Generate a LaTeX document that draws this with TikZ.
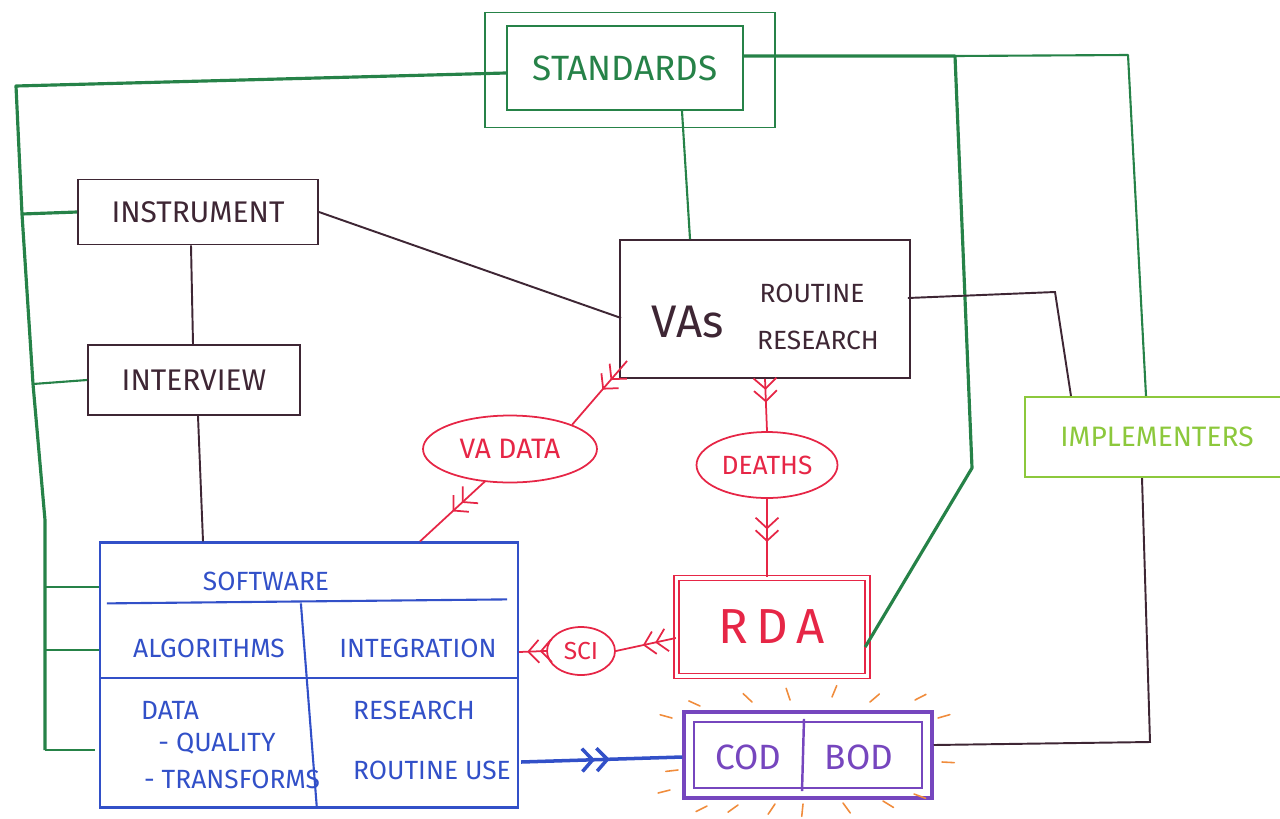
\documentclass[tikz,border=0pt]{standalone}
\usepackage{fontspec}
\setmainfont{Fira Sans}
\usetikzlibrary{calc,arrows.meta,decorations.markings,shapes.geometric}
\definecolor{gdark}{RGB}{38,130,72}
\definecolor{glight}{RGB}{140,200,60}
\definecolor{bxc}{RGB}{62,38,52}
\definecolor{rc}{RGB}{230,38,70}
\definecolor{bc}{RGB}{50,80,200}
\definecolor{pc}{RGB}{118,70,190}
\definecolor{oc}{RGB}{240,140,60}
\tikzset{
  fs/.style={font=\fontsize{#1}{#1}\selectfont},
  bbox/.style={draw=bxc, line width=1.1pt, text=bxc},
  kline/.style={draw=bxc, line width=1.1pt},
  gspine/.style={draw=gdark, line width=1.8pt, line join=round},
  gline/.style={draw=gdark, line width=1.2pt, line join=round},
  rline/.style={draw=rc, line width=1pt},
  chev/.style={postaction={decorate}, decoration={markings,
     mark=at position #1 with {\arrow{Straight Barb[length=6pt,width=13pt] Straight Barb[length=6pt,width=13pt]}}}},
  rayline/.style={draw=oc, line width=0.9pt, line cap=round},
}
\begin{document}
\begin{tikzpicture}[x=0.02cm,y=-0.02cm]
\useasboundingbox (0,0) rectangle (1280,818);

% ---- Standards
\node[draw=gdark, line width=1.1pt, minimum width=5.8cm, minimum height=2.3cm] (stdo) at (630,70) {};
\node[draw=gdark, line width=1.3pt, minimum width=4.72cm, minimum height=1.68cm, text=gdark, fs=20] (std) at (625,68) {STANDARDS};

% ---- Instrument / Interview
\node[bbox, minimum width=4.8cm, minimum height=1.3cm, fs=17] (ins) at (198,212) {INSTRUMENT};
\node[bbox, minimum width=4.24cm, minimum height=1.4cm, fs=17] (int) at (194,380) {INTERVIEW};

% ---- VAs
\node[bbox, minimum width=5.8cm, minimum height=2.76cm] (vas) at (765,309) {};
\node[text=bxc, fs=26] (vast) at (688,322) {VAs};
\node[text=bxc, fs=15] (vasr) at (812,293) {ROUTINE};
\node[text=bxc, fs=15] (vasq) at (818,340) {RESEARCH};

% ---- red ellipses
\node[ellipse, draw=rc, line width=1pt, text=rc, inner sep=0pt, minimum width=3.48cm, minimum height=1.34cm, fs=16] (vad) at (510,449) {VA DATA};
\node[ellipse, draw=rc, line width=1pt, text=rc, inner sep=0pt, minimum width=2.82cm, minimum height=1.32cm, fs=15] (dth) at (767,465) {DEATHS};
\node[ellipse, draw=rc, line width=1pt, text=rc, inner sep=0pt, minimum width=1.36cm, minimum height=0.96cm, fs=14] (sci) at (581,651) {SCI};

% ---- RDA
\node[draw=rc, line width=0.8pt, double=white, double distance=2.2pt, minimum width=3.82cm, minimum height=1.96cm, text=rc, fs=28] (rda) at (772,627) {R\,D\,A};

% ---- COD / BOD
\node[draw=pc, line width=2pt, minimum width=4.96cm, minimum height=1.72cm] (cod) at (808,755) {};
\node[draw=pc, line width=1.3pt, minimum width=4.56cm, minimum height=1.32cm] (codi) at (808,755) {};
\node[text=pc, fs=20] (codt) at (748,757) {COD};
\node[text=pc, fs=20] (bodt) at (859,757) {BOD};
\draw[draw=pc, line width=1.4pt] ($(codi.north)+(-4,-2)$) -- ($(codi.south)+(-6,2)$);

% ---- Implementers
\node[draw=glight, line width=1.2pt, minimum width=5.28cm, minimum height=1.6cm, text=glight, fs=16] (imp) at (1157,437) {IMPLEMENTERS};

% ---- Software
\node[draw=bc, line width=1.3pt, minimum width=8.36cm, minimum height=5.3cm] (sw) at (309,675) {};
\draw[draw=bc, line width=1.2pt] ($(sw.north west)+(8,62)$) -- ($(sw.north east)+(-12,58)$);
\draw[draw=bc, line width=1.2pt] ($(sw.north west)+(2,137)$) -- ($(sw.north east)+(0,137)$);
\draw[draw=bc, line width=1.2pt] ($(sw.north west)+(202,62)$) -- ($(sw.south west)+(218,0)$);
\node[text=bc, fs=15] (swt) at (266,581) {SOFTWARE};
\node[text=bc, fs=15] (alg) at (209,648) {ALGORITHMS};
\node[text=bc, fs=15] (intg) at (418,648) {INTEGRATION};
\node[text=bc, fs=15] (dat) at (170,710) {DATA};
\node[text=bc, fs=15] (qual) at (217,744) {- QUALITY};
\node[text=bc, fs=15] (trf) at (232,779) {- TRANSFORMS};
\node[text=bc, fs=15] (res) at (414,710) {RESEARCH};
\node[text=bc, fs=15] (rou) at (432,770) {ROUTINE USE};

% ---- green connectors
\coordinate (g0) at (16,86);
\coordinate (g1) at (22,214);
\coordinate (g2) at (33,384);
\coordinate (g3) at (45,520);
\coordinate (g4) at (45,587);
\coordinate (g5) at (45,650);
\coordinate (g6) at (45,750);
\draw[gspine] ($(std.west)+(0,5)$) -- (g0) -- (g1) -- (g2) -- (g3) -- (g6);
\draw[gspine] (g1) -- (ins.west);
\draw[gline] (g2) -- (int.west);
\draw[gline] (g4) -- (sw.west |- g4);
\draw[gline] (g5) -- (sw.west |- g5);
\draw[gline] (g6) -- ($(sw.west |- g6)+(-4,0)$);

\coordinate (g7) at (955,56);
\coordinate (g8) at (972,468);
\coordinate (g9) at (1128,55);
\draw[gspine] ($(std.east)+(0,-12)$) -- (g7) -- (g8) -- ($(rda.east)+(-3,20)$);
\draw[gline] (g7) -- (g9) -- ($(imp.north)+(-11,0)$);
\draw[gline] ($(std.south)+(57,0)$) -- ($(vas.north)+(-75,0)$);

% ---- black connectors
\draw[kline] (ins.east) -- ($(vas.west)+(2,9)$);
\draw[kline] ($(ins.south)+(-7,0)$) -- ($(int.north)+(-1,0)$);
\draw[kline] ($(int.south)+(4,0)$) -- ($(sw.north)+(-106,0)$);
\coordinate (k1) at (1055,292);
\draw[kline] ($(vas.east)+(-3,-11)$) -- (k1) -- ($(imp.north west)+(47,0)$);
\coordinate (k2) at (1150,742);
\draw[kline] ($(imp.south)+(-15,0)$) -- (k2) -- ($(cod.east)+(0,-10)$);

% ---- red arrows
\draw[rline, chev=0.45] ($(vas.south west)+(8,-18)$) -- (vad.north east);
\draw[rline, chev=0.5] ($(vad.south)+(-25,-2)$) -- ($(sw.north)+(111,0)$);
\draw[rline, chev=0.45] (vas.south) -- (dth.north);
\draw[rline, chev=0.55] (dth.south) -- (dth.south |- rda.north);
\draw[rline, chev=0.55] ($(rda.west)+(0,11)$) -- (sci.east);
\draw[rline, chev=0.7] (sci.west) -- ($(sw.east)+(0,-23)$);

% ---- blue arrow
\draw[draw=bc, line width=2pt, chev=0.55] ($(sw.east)+(2,87)$) -- ($(cod.west)+(0,2)$);

% ---- orange rays
\foreach \x/\y in {672/718,700/706,752/702,790/700,832/697,870/702,915/700,938/718,942/762,914/794,883/801,843/803,803/804,775/804,738/805,707/806,678/770,670/790}
  \draw[rayline] (\x,\y) -- ($(\x,\y)!-7pt!(cod.center)$);
\end{tikzpicture}
\end{document}
